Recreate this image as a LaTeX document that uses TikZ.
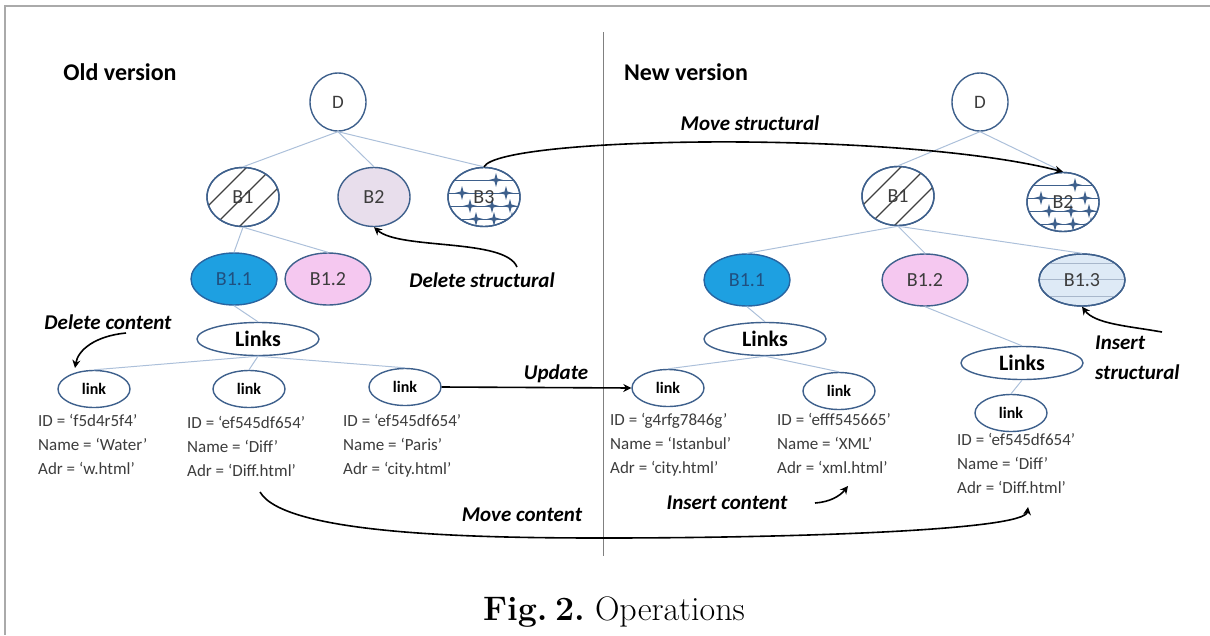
\documentclass[tikz,border=0pt]{standalone}
\usepackage{fontspec}
\newfontfamily\calfnt{Carlito}
\usetikzlibrary{arrows.meta,shapes.geometric}
\definecolor{nodeblue}{RGB}{62,96,140}
\definecolor{edgeblue}{RGB}{172,192,218}
\definecolor{bluefill}{RGB}{30,160,225}
\definecolor{blueborder}{RGB}{40,100,160}
\definecolor{pinkfill}{RGB}{245,200,240}
\definecolor{lavfill}{RGB}{232,222,236}
\definecolor{lightbl}{RGB}{222,234,246}
\definecolor{txtgray}{RGB}{60,60,60}
\definecolor{framegray}{RGB}{170,170,170}
\tikzset{
  nd/.style={ellipse, draw=nodeblue, line width=1.4pt, inner sep=0pt, text=txtgray,
    font=\calfnt\fontsize{20}{20}\selectfont},
  bnode/.style={nd, minimum width=72pt, minimum height=59pt},
  snode/.style={nd, minimum width=86pt, minimum height=52pt},
  dnode/.style={nd, minimum width=56pt, minimum height=58pt, font=\calfnt\fontsize{19}{19}\selectfont},
  linksnode/.style={nd, minimum width=122pt, minimum height=33pt, text=black,
    font=\calfnt\bfseries\fontsize{22}{22}\selectfont},
  linknode/.style={nd, minimum width=72pt, minimum height=37pt, text=black,
    font=\calfnt\bfseries\fontsize{16}{16}\selectfont},
  edge/.style={draw=edgeblue, line width=1pt},
  info/.style={align=left, anchor=north west, inner sep=0pt, text=txtgray,
    font=\calfnt\fontsize{17}{24}\selectfont},
  op/.style={font=\calfnt\bfseries\itshape\fontsize{21}{24}\selectfont, inner sep=0pt},
  ttl/.style={font=\calfnt\bfseries\fontsize{24}{24}\selectfont, inner sep=0pt},
  arr/.style={draw=black, line width=1.6pt, -{Stealth[length=8pt,width=8pt]}},
  star4/.style={fill=nodeblue, draw=none},
}
\begin{document}
\begin{tikzpicture}[x=1pt,y=-1pt]
\useasboundingbox (0,0) rectangle (1210,635);
% frame
\draw[framegray, line width=2pt] (1210,6) -- (5,6) -- (5,635);
% divider
\coordinate (dtop) at (603,32);
\coordinate (dbot) at (603,556);
\draw[gray, line width=1pt] (dtop) -- (dbot);

% titles
\node[ttl] (oldt) at (120,72) {Old version};
\node[ttl] (newt) at (686,72) {New version};

% ---------- old tree ----------
\node[dnode] (oD) at (338,102) {D};
\node[bnode] (oB1) at (243,197) {};
\node[bnode, fill=lavfill] (oB2) at (374,197) {B2};
\node[bnode] (oB3) at (484,197) {};
\node[snode, fill=bluefill, draw=blueborder, text=blueborder!80!black] (oB11) at (234,279) {B1.1};
\node[snode, fill=pinkfill] (oB12) at (328,279) {B1.2};
\node[linksnode] (oL) at (258,339) {Links};
\node[linknode] (ol1) at (94,389) {link};
\node[linknode] (ol2) at (249,389) {link};
\node[linknode] (ol3) at (405,387) {link};

% ---------- new tree ----------
\node[dnode] (nD) at (980,102) {D};
\node[bnode] (nB1) at (898,196) {};
\node[bnode] (nB2) at (1063,202) {};
\node[snode, fill=bluefill, draw=blueborder, text=blueborder!80!black] (nB11) at (747,280) {B1.1};
\node[snode, fill=pinkfill] (nB12) at (925,280) {B1.2};
\node[snode, fill=lightbl] (nB13) at (1082,280) {};
\node[linksnode] (nLL) at (765,339) {Links};
\node[linksnode] (nLR) at (1022,363) {Links};
\node[linknode] (nl1) at (668,388) {link};
\node[linknode] (nl2) at (839,391) {link};
\node[linknode] (nl3) at (1011,413) {link};

% hatch patterns
\begin{scope}
  \clip (243,197) ellipse [x radius=36, y radius=29.5];
  \foreach \d in {-26,0,26} {
    \draw[black!75, line width=1.2pt] (243+\d-40,197+40) -- (243+\d+40,197-40);
  }
\end{scope}
\begin{scope}
  \clip (898,196) ellipse [x radius=36, y radius=29.5];
  \foreach \d in {-26,0,26} {
    \draw[black!75, line width=1.2pt] (898+\d-40,196+40) -- (898+\d+40,196-40);
  }
\end{scope}
\foreach \cx/\cy in {484/197, 1063/202} {
  \begin{scope}
    \clip (\cx,\cy) ellipse [x radius=36, y radius=29.5];
    \foreach \dy in {-17,-4,9,22} {
      \draw[nodeblue, line width=0.9pt] (\cx-40,\cy+\dy) -- (\cx+40,\cy+\dy);
    }
    \foreach \dx/\dy in {12/-17, 22/-4, -22/-4, 8/9, -14/9, 26/9, 10/22, -8/22, 28/22} {
      \fill[star4] (\cx+\dx,\cy+\dy-7) -- (\cx+\dx+1.5,\cy+\dy-1.5) -- (\cx+\dx+7,\cy+\dy)
        -- (\cx+\dx+1.5,\cy+\dy+1.5) -- (\cx+\dx,\cy+\dy+7) -- (\cx+\dx-1.5,\cy+\dy+1.5)
        -- (\cx+\dx-7,\cy+\dy) -- (\cx+\dx-1.5,\cy+\dy-1.5) -- cycle;
    }
  \end{scope}
}
\begin{scope}
  \clip (1082,280) ellipse [x radius=43, y radius=26];
  \foreach \dy in {-17,-1,16} {
    \draw[nodeblue!45, line width=1pt] (1082-50,280+\dy) -- (1082+50,280+\dy);
  }
\end{scope}
% redraw outlines and labels of patterned nodes
\node[bnode, fill=none] (oB1t) at (243,197) {B1};
\node[bnode, fill=none] (oB3t) at (484,197) {B3};
\node[bnode, fill=none] (nB1t) at (898,196) {B1};
\node[bnode, fill=none] (nB2t) at (1063,202) {B2};
\node[snode, fill=none] (nB13t) at (1082,280) {B1.3};

% tree edges
\draw[edge] (oD.south) -- (oB1.north);
\draw[edge] (oD.south) -- (oB2.north);
\draw[edge] (oD.south) -- (oB3.north);
\draw[edge] (oB1.south) -- (oB11.north);
\draw[edge] (oB1.south) -- (oB12.north);
\draw[edge] (oB11.south) -- (oL.north);
\draw[edge] (oL.south) -- (ol1.north);
\draw[edge] (oL.south) -- (ol2.north);
\draw[edge] (oL.south) -- (ol3.north);
\draw[edge] (nD.south) -- (nB1.north);
\draw[edge] (nD.south) -- (nB2.north);
\draw[edge] (nB1.south) -- (nB11.north);
\draw[edge] (nB1.south) -- (nB12.north);
\draw[edge] (nB1.south) -- (nB13.north);
\draw[edge] (nB11.south) -- (nLL.north);
\draw[edge] (nLL.south) -- (nl1.north);
\draw[edge] (nLL.south) -- (nl2.north);
\draw[edge] (nB12.south) -- (nLR.north);
\draw[edge] (nLR.south) -- (nl3.north);

% info texts
\node[info] (t1) at (38,414) {ID = ‘f5d4r5f4’\\Name = ‘Water’\\Adr = ‘w.html’};
\node[info] (t2) at (187,416) {ID = ‘ef545df654’\\Name = ‘Diff’\\Adr = ‘Diff.html’};
\node[info] (t3) at (343,414) {ID = ‘ef545df654’\\Name = ‘Paris’\\Adr = ‘city.html’};
\node[info] (t4) at (610,413) {ID = ‘g4rfg7846g’\\Name = ‘Istanbul’\\Adr = ‘city.html’};
\node[info] (t5) at (777,413) {ID = ‘efff545665’\\Name = ‘XML’\\Adr = ‘xml.html’};
\node[info] (t6) at (957,433) {ID = ‘ef545df654’\\Name = ‘Diff’\\Adr = ‘Diff.html’};

% operation labels
\node[op] (lms) at (750,123) {Move structural};
\node[op] (lds) at (482,280) {Delete structural};
\node[op] (ldc) at (108,322) {Delete content};
\node[op] (lup) at (556,374) {Update};
\node[op, align=left, anchor=west, font=\calfnt\bfseries\itshape\fontsize{21}{30}\selectfont] (lis) at (1095,358) {Insert\\structural};
\node[op] (lic) at (727,503) {Insert content};
\node[op] (lmc) at (522,515) {Move content};

% operation arrows
\coordinate (ds0) at (517,267);
\draw[arr] (ds0) .. controls (505,238) and (400,250) .. (oB2.south);
\draw[arr] (oB3.north) .. controls (500,136) and (900,130) .. (nB2.north);
\coordinate (dc0) at (126,333);
\coordinate (dc1) at (75,368);
\draw[arr] (dc0) .. controls (95,336) and (78,350) .. (dc1);
\draw[arr] (ol3.east) -- (nl1.west);
\coordinate (is0) at (1162,332);
\draw[arr] (is0) .. controls (1128,326) and (1095,324) .. (nB13.south);
\coordinate (ic0) at (815,503);
\coordinate (ic1) at (848,486);
\draw[arr] (ic0) .. controls (830,502) and (840,496) .. (ic1);
\coordinate (mc0) at (260,492);
\coordinate (mc1) at (603,538);
\coordinate (mc2) at (1028,507);
\draw[arr] (mc0) .. controls (285,535) and (480,538) .. (mc1) .. controls (800,538) and (1025,530) .. (mc2);

% caption
\node[inner sep=0pt, font=\fontsize{34}{34}\selectfont] (cap) at (614,612) {\textbf{Fig.\hspace{0.22em}2.}\hspace{0.3em}Operations};
\end{tikzpicture}
\end{document}
